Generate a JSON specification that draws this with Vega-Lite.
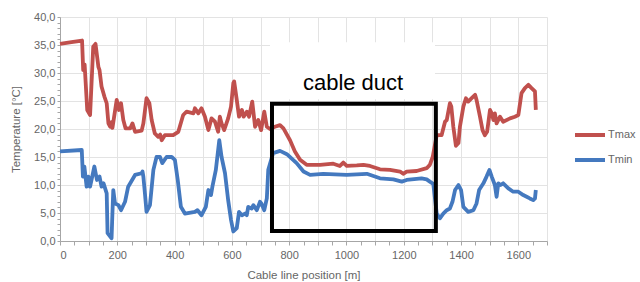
{
  "$schema": "https://vega.github.io/schema/vega-lite/v6.json",
  "autosize": "none",
  "width": 487,
  "height": 224,
  "padding": {"left": 60, "top": 17, "right": 93, "bottom": 41},
  "background": "white",
  "config": {
    "view": {"stroke": null},
    "font": "Liberation Sans",
    "axis": {"labelColor": "#666666", "titleColor": "#666666", "labelFont": "Liberation Sans", "titleFont": "Liberation Sans", "labelFontSize": 11, "titleFontSize": 11.5, "titleFontWeight": "normal", "gridColor": "#e3e3e3", "domainColor": "#a6a6a6", "tickColor": "#a6a6a6", "labelOverlap": false}
  },
  "resolve": {"axis": {"x": "independent", "y": "independent"}},
  "datasets": {
    "temps": [
      {"pos": 0, "temp": 35.2, "series": "Tmax"},
      {"pos": 40, "temp": 35.5, "series": "Tmax"},
      {"pos": 77, "temp": 35.8, "series": "Tmax"},
      {"pos": 81, "temp": 30.5, "series": "Tmax"},
      {"pos": 86, "temp": 31.5, "series": "Tmax"},
      {"pos": 95, "temp": 23.4, "series": "Tmax"},
      {"pos": 105, "temp": 22.5, "series": "Tmax"},
      {"pos": 116, "temp": 34.7, "series": "Tmax"},
      {"pos": 124, "temp": 35.2, "series": "Tmax"},
      {"pos": 134, "temp": 31.1, "series": "Tmax"},
      {"pos": 138, "temp": 30.5, "series": "Tmax"},
      {"pos": 145, "temp": 27.6, "series": "Tmax"},
      {"pos": 155, "temp": 25.8, "series": "Tmax"},
      {"pos": 163, "temp": 24.6, "series": "Tmax"},
      {"pos": 169, "temp": 21.0, "series": "Tmax"},
      {"pos": 175, "temp": 20.4, "series": "Tmax"},
      {"pos": 180, "temp": 21.2, "series": "Tmax"},
      {"pos": 183, "temp": 20.2, "series": "Tmax"},
      {"pos": 198, "temp": 25.2, "series": "Tmax"},
      {"pos": 206, "temp": 23.4, "series": "Tmax"},
      {"pos": 213, "temp": 24.6, "series": "Tmax"},
      {"pos": 221, "temp": 21.6, "series": "Tmax"},
      {"pos": 229, "temp": 20.1, "series": "Tmax"},
      {"pos": 245, "temp": 20.1, "series": "Tmax"},
      {"pos": 253, "temp": 21.0, "series": "Tmax"},
      {"pos": 262, "temp": 19.5, "series": "Tmax"},
      {"pos": 285, "temp": 19.7, "series": "Tmax"},
      {"pos": 291, "temp": 21.0, "series": "Tmax"},
      {"pos": 302, "temp": 25.5, "series": "Tmax"},
      {"pos": 312, "temp": 24.6, "series": "Tmax"},
      {"pos": 320, "temp": 21.6, "series": "Tmax"},
      {"pos": 331, "temp": 19.2, "series": "Tmax"},
      {"pos": 343, "temp": 18.6, "series": "Tmax"},
      {"pos": 350, "temp": 19.0, "series": "Tmax"},
      {"pos": 355, "temp": 18.0, "series": "Tmax"},
      {"pos": 366, "temp": 18.9, "series": "Tmax"},
      {"pos": 395, "temp": 18.9, "series": "Tmax"},
      {"pos": 413, "temp": 19.5, "series": "Tmax"},
      {"pos": 430, "temp": 22.5, "series": "Tmax"},
      {"pos": 442, "temp": 23.1, "series": "Tmax"},
      {"pos": 466, "temp": 22.8, "series": "Tmax"},
      {"pos": 471, "temp": 23.7, "series": "Tmax"},
      {"pos": 483, "temp": 22.8, "series": "Tmax"},
      {"pos": 494, "temp": 23.7, "series": "Tmax"},
      {"pos": 506, "temp": 22.2, "series": "Tmax"},
      {"pos": 518, "temp": 19.8, "series": "Tmax"},
      {"pos": 529, "temp": 21.9, "series": "Tmax"},
      {"pos": 541, "temp": 21.3, "series": "Tmax"},
      {"pos": 552, "temp": 19.5, "series": "Tmax"},
      {"pos": 558, "temp": 22.2, "series": "Tmax"},
      {"pos": 564, "temp": 21.0, "series": "Tmax"},
      {"pos": 573, "temp": 19.8, "series": "Tmax"},
      {"pos": 587, "temp": 21.9, "series": "Tmax"},
      {"pos": 597, "temp": 24.0, "series": "Tmax"},
      {"pos": 605, "temp": 28.2, "series": "Tmax"},
      {"pos": 608, "temp": 28.5, "series": "Tmax"},
      {"pos": 617, "temp": 25.2, "series": "Tmax"},
      {"pos": 625, "temp": 22.2, "series": "Tmax"},
      {"pos": 635, "temp": 23.4, "series": "Tmax"},
      {"pos": 641, "temp": 22.2, "series": "Tmax"},
      {"pos": 652, "temp": 23.1, "series": "Tmax"},
      {"pos": 660, "temp": 22.2, "series": "Tmax"},
      {"pos": 671, "temp": 24.9, "series": "Tmax"},
      {"pos": 681, "temp": 20.4, "series": "Tmax"},
      {"pos": 692, "temp": 21.6, "series": "Tmax"},
      {"pos": 702, "temp": 19.8, "series": "Tmax"},
      {"pos": 713, "temp": 23.1, "series": "Tmax"},
      {"pos": 722, "temp": 20.4, "series": "Tmax"},
      {"pos": 733, "temp": 20.0, "series": "Tmax"},
      {"pos": 750, "temp": 20.4, "series": "Tmax"},
      {"pos": 768, "temp": 20.7, "series": "Tmax"},
      {"pos": 780, "temp": 20.1, "series": "Tmax"},
      {"pos": 803, "temp": 18.0, "series": "Tmax"},
      {"pos": 820, "temp": 16.0, "series": "Tmax"},
      {"pos": 838, "temp": 14.5, "series": "Tmax"},
      {"pos": 861, "temp": 13.6, "series": "Tmax"},
      {"pos": 908, "temp": 13.6, "series": "Tmax"},
      {"pos": 954, "temp": 13.8, "series": "Tmax"},
      {"pos": 977, "temp": 13.4, "series": "Tmax"},
      {"pos": 989, "temp": 14.0, "series": "Tmax"},
      {"pos": 1001, "temp": 13.4, "series": "Tmax"},
      {"pos": 1036, "temp": 13.5, "series": "Tmax"},
      {"pos": 1059, "temp": 13.6, "series": "Tmax"},
      {"pos": 1082, "temp": 13.4, "series": "Tmax"},
      {"pos": 1117, "temp": 12.8, "series": "Tmax"},
      {"pos": 1152, "temp": 12.7, "series": "Tmax"},
      {"pos": 1187, "temp": 12.4, "series": "Tmax"},
      {"pos": 1198, "temp": 12.0, "series": "Tmax"},
      {"pos": 1210, "temp": 12.4, "series": "Tmax"},
      {"pos": 1245, "temp": 12.5, "series": "Tmax"},
      {"pos": 1280, "temp": 13.0, "series": "Tmax"},
      {"pos": 1291, "temp": 13.6, "series": "Tmax"},
      {"pos": 1301, "temp": 15.0, "series": "Tmax"},
      {"pos": 1315, "temp": 18.9, "series": "Tmax"},
      {"pos": 1332, "temp": 18.9, "series": "Tmax"},
      {"pos": 1344, "temp": 21.3, "series": "Tmax"},
      {"pos": 1350, "temp": 21.6, "series": "Tmax"},
      {"pos": 1361, "temp": 24.6, "series": "Tmax"},
      {"pos": 1366, "temp": 24.0, "series": "Tmax"},
      {"pos": 1373, "temp": 20.4, "series": "Tmax"},
      {"pos": 1382, "temp": 17.0, "series": "Tmax"},
      {"pos": 1391, "temp": 17.5, "series": "Tmax"},
      {"pos": 1396, "temp": 20.4, "series": "Tmax"},
      {"pos": 1408, "temp": 24.0, "series": "Tmax"},
      {"pos": 1417, "temp": 25.5, "series": "Tmax"},
      {"pos": 1425, "temp": 24.9, "series": "Tmax"},
      {"pos": 1437, "temp": 25.5, "series": "Tmax"},
      {"pos": 1449, "temp": 26.1, "series": "Tmax"},
      {"pos": 1454, "temp": 25.2, "series": "Tmax"},
      {"pos": 1466, "temp": 22.2, "series": "Tmax"},
      {"pos": 1475, "temp": 19.8, "series": "Tmax"},
      {"pos": 1483, "temp": 18.9, "series": "Tmax"},
      {"pos": 1491, "temp": 19.5, "series": "Tmax"},
      {"pos": 1501, "temp": 23.4, "series": "Tmax"},
      {"pos": 1507, "temp": 22.8, "series": "Tmax"},
      {"pos": 1513, "temp": 21.6, "series": "Tmax"},
      {"pos": 1518, "temp": 22.8, "series": "Tmax"},
      {"pos": 1524, "temp": 21.0, "series": "Tmax"},
      {"pos": 1536, "temp": 22.2, "series": "Tmax"},
      {"pos": 1547, "temp": 21.3, "series": "Tmax"},
      {"pos": 1571, "temp": 21.9, "series": "Tmax"},
      {"pos": 1588, "temp": 22.2, "series": "Tmax"},
      {"pos": 1600, "temp": 22.5, "series": "Tmax"},
      {"pos": 1611, "temp": 26.4, "series": "Tmax"},
      {"pos": 1623, "temp": 27.3, "series": "Tmax"},
      {"pos": 1635, "temp": 27.9, "series": "Tmax"},
      {"pos": 1646, "temp": 27.3, "series": "Tmax"},
      {"pos": 1658, "temp": 26.7, "series": "Tmax"},
      {"pos": 1661, "temp": 23.4, "series": "Tmax"},
      {"pos": 0, "temp": 16.0, "series": "Tmin"},
      {"pos": 76, "temp": 16.25, "series": "Tmin"},
      {"pos": 80, "temp": 11.5, "series": "Tmin"},
      {"pos": 85, "temp": 13.3, "series": "Tmin"},
      {"pos": 93, "temp": 9.7, "series": "Tmin"},
      {"pos": 99, "temp": 11.5, "series": "Tmin"},
      {"pos": 105, "temp": 9.7, "series": "Tmin"},
      {"pos": 120, "temp": 13.3, "series": "Tmin"},
      {"pos": 129, "temp": 10.9, "series": "Tmin"},
      {"pos": 138, "temp": 11.5, "series": "Tmin"},
      {"pos": 145, "temp": 9.7, "series": "Tmin"},
      {"pos": 152, "temp": 10.3, "series": "Tmin"},
      {"pos": 163, "temp": 8.5, "series": "Tmin"},
      {"pos": 166, "temp": 1.4, "series": "Tmin"},
      {"pos": 180, "temp": 0.5, "series": "Tmin"},
      {"pos": 182, "temp": 3.5, "series": "Tmin"},
      {"pos": 186, "temp": 9.1, "series": "Tmin"},
      {"pos": 192, "temp": 6.7, "series": "Tmin"},
      {"pos": 204, "temp": 6.4, "series": "Tmin"},
      {"pos": 213, "temp": 5.5, "series": "Tmin"},
      {"pos": 227, "temp": 7.0, "series": "Tmin"},
      {"pos": 238, "temp": 9.7, "series": "Tmin"},
      {"pos": 262, "temp": 11.8, "series": "Tmin"},
      {"pos": 285, "temp": 12.1, "series": "Tmin"},
      {"pos": 288, "temp": 12.4, "series": "Tmin"},
      {"pos": 291, "temp": 11.5, "series": "Tmin"},
      {"pos": 297, "temp": 8.2, "series": "Tmin"},
      {"pos": 302, "temp": 5.2, "series": "Tmin"},
      {"pos": 314, "temp": 6.4, "series": "Tmin"},
      {"pos": 326, "temp": 12.7, "series": "Tmin"},
      {"pos": 337, "temp": 15.0, "series": "Tmin"},
      {"pos": 349, "temp": 15.0, "series": "Tmin"},
      {"pos": 357, "temp": 13.9, "series": "Tmin"},
      {"pos": 372, "temp": 15.0, "series": "Tmin"},
      {"pos": 390, "temp": 15.0, "series": "Tmin"},
      {"pos": 401, "temp": 14.5, "series": "Tmin"},
      {"pos": 411, "temp": 10.9, "series": "Tmin"},
      {"pos": 422, "temp": 6.1, "series": "Tmin"},
      {"pos": 436, "temp": 4.9, "series": "Tmin"},
      {"pos": 471, "temp": 5.2, "series": "Tmin"},
      {"pos": 480, "temp": 5.5, "series": "Tmin"},
      {"pos": 494, "temp": 4.6, "series": "Tmin"},
      {"pos": 509, "temp": 6.1, "series": "Tmin"},
      {"pos": 518, "temp": 9.1, "series": "Tmin"},
      {"pos": 527, "temp": 8.2, "series": "Tmin"},
      {"pos": 532, "temp": 9.7, "series": "Tmin"},
      {"pos": 544, "temp": 12.7, "series": "Tmin"},
      {"pos": 556, "temp": 18.0, "series": "Tmin"},
      {"pos": 564, "temp": 15.0, "series": "Tmin"},
      {"pos": 576, "temp": 12.1, "series": "Tmin"},
      {"pos": 587, "temp": 7.3, "series": "Tmin"},
      {"pos": 597, "temp": 3.75, "series": "Tmin"},
      {"pos": 605, "temp": 1.7, "series": "Tmin"},
      {"pos": 617, "temp": 2.3, "series": "Tmin"},
      {"pos": 625, "temp": 5.2, "series": "Tmin"},
      {"pos": 635, "temp": 4.6, "series": "Tmin"},
      {"pos": 646, "temp": 4.9, "series": "Tmin"},
      {"pos": 652, "temp": 4.6, "series": "Tmin"},
      {"pos": 657, "temp": 6.1, "series": "Tmin"},
      {"pos": 669, "temp": 5.8, "series": "Tmin"},
      {"pos": 675, "temp": 6.4, "series": "Tmin"},
      {"pos": 687, "temp": 5.5, "series": "Tmin"},
      {"pos": 698, "temp": 7.0, "series": "Tmin"},
      {"pos": 703, "temp": 6.7, "series": "Tmin"},
      {"pos": 713, "temp": 5.5, "series": "Tmin"},
      {"pos": 722, "temp": 7.6, "series": "Tmin"},
      {"pos": 727, "temp": 12.7, "series": "Tmin"},
      {"pos": 744, "temp": 15.7, "series": "Tmin"},
      {"pos": 768, "temp": 16.1, "series": "Tmin"},
      {"pos": 792, "temp": 15.5, "series": "Tmin"},
      {"pos": 826, "temp": 13.9, "series": "Tmin"},
      {"pos": 850, "temp": 12.4, "series": "Tmin"},
      {"pos": 873, "temp": 11.8, "series": "Tmin"},
      {"pos": 919, "temp": 12.0, "series": "Tmin"},
      {"pos": 1001, "temp": 11.8, "series": "Tmin"},
      {"pos": 1071, "temp": 12.0, "series": "Tmin"},
      {"pos": 1117, "temp": 11.2, "series": "Tmin"},
      {"pos": 1164, "temp": 11.0, "series": "Tmin"},
      {"pos": 1193, "temp": 10.6, "series": "Tmin"},
      {"pos": 1210, "temp": 10.9, "series": "Tmin"},
      {"pos": 1262, "temp": 11.2, "series": "Tmin"},
      {"pos": 1280, "temp": 11.0, "series": "Tmin"},
      {"pos": 1291, "temp": 10.6, "series": "Tmin"},
      {"pos": 1303, "temp": 10.2, "series": "Tmin"},
      {"pos": 1315, "temp": 4.9, "series": "Tmin"},
      {"pos": 1326, "temp": 4.05, "series": "Tmin"},
      {"pos": 1338, "temp": 4.9, "series": "Tmin"},
      {"pos": 1350, "temp": 5.5, "series": "Tmin"},
      {"pos": 1361, "temp": 5.8, "series": "Tmin"},
      {"pos": 1370, "temp": 7.0, "series": "Tmin"},
      {"pos": 1379, "temp": 9.1, "series": "Tmin"},
      {"pos": 1391, "temp": 10.0, "series": "Tmin"},
      {"pos": 1400, "temp": 9.1, "series": "Tmin"},
      {"pos": 1408, "temp": 6.1, "series": "Tmin"},
      {"pos": 1425, "temp": 5.2, "series": "Tmin"},
      {"pos": 1443, "temp": 5.5, "series": "Tmin"},
      {"pos": 1454, "temp": 6.7, "series": "Tmin"},
      {"pos": 1463, "temp": 9.1, "series": "Tmin"},
      {"pos": 1478, "temp": 10.3, "series": "Tmin"},
      {"pos": 1489, "temp": 11.5, "series": "Tmin"},
      {"pos": 1499, "temp": 12.7, "series": "Tmin"},
      {"pos": 1507, "temp": 11.5, "series": "Tmin"},
      {"pos": 1518, "temp": 10.0, "series": "Tmin"},
      {"pos": 1524, "temp": 7.9, "series": "Tmin"},
      {"pos": 1530, "temp": 10.3, "series": "Tmin"},
      {"pos": 1538, "temp": 10.0, "series": "Tmin"},
      {"pos": 1547, "temp": 10.3, "series": "Tmin"},
      {"pos": 1565, "temp": 9.4, "series": "Tmin"},
      {"pos": 1582, "temp": 8.8, "series": "Tmin"},
      {"pos": 1600, "temp": 8.8, "series": "Tmin"},
      {"pos": 1617, "temp": 8.2, "series": "Tmin"},
      {"pos": 1629, "temp": 7.9, "series": "Tmin"},
      {"pos": 1640, "temp": 7.6, "series": "Tmin"},
      {"pos": 1652, "temp": 7.3, "series": "Tmin"},
      {"pos": 1658, "temp": 7.6, "series": "Tmin"},
      {"pos": 1661, "temp": 9.1, "series": "Tmin"}
    ],
    "labelbox": [{"x1": 733, "x2": 1309, "y1": 25.3, "y2": 35.5}],
    "duct": [{"x1": 740, "x2": 1312, "y1": 1.8, "y2": 24.5, "label": "cable duct", "lx": 1023, "ly": 28.3}]
  },
  "layer": [
    {
      "data": {"name": "labelbox"},
      "mark": {"type": "rect", "fill": "white"},
      "encoding": {
        "x": {"field": "x1", "type": "quantitative", "scale": {"domain": [0, 1700], "nice": false}, "axis": {"orient": "bottom", "title": null, "values": [0,100,200,300,400,500,600,700,800,900,1000,1100,1200,1300,1400,1500,1600,1700], "labels": false, "ticks": false, "domain": false, "grid": true}},
        "x2": {"field": "x2"},
        "y": {"field": "y1", "type": "quantitative", "scale": {"domain": [0, 40], "nice": false}, "axis": {"orient": "left", "title": null, "values": [0,5,10,15,20,25,30,35,40], "labels": false, "ticks": false, "domain": false, "grid": true}},
        "y2": {"field": "y2"}
      }
    },
    {
      "data": {"name": "temps"},
      "mark": {"type": "line", "strokeWidth": 3.8, "strokeJoin": "round", "interpolate": "linear"},
      "encoding": {
        "x": {"field": "pos", "type": "quantitative", "axis": {"orient": "bottom", "title": "Cable line position [m]", "grid": false, "values": [0,50,100,150,200,250,300,350,400,450,500,550,600,650,700,750,800,850,900,950,1000,1050,1100,1150,1200,1250,1300,1350,1400,1450,1500,1550,1600,1650,1700], "labelExpr": "datum.value % 200 == 0 && datum.value < 1700 ? datum.label : ''", "format": "d", "tickSize": 4, "labelPadding": 4, "titlePadding": 9}},
        "y": {"field": "temp", "type": "quantitative", "axis": {"orient": "left", "title": "Temperature [°C]", "grid": false, "values": [0,1,2,3,4,5,6,7,8,9,10,11,12,13,14,15,16,17,18,19,20,21,22,23,24,25,26,27,28,29,30,31,32,33,34,35,36,37,38,39,40], "labelExpr": "datum.value % 5 == 0 ? replace(format(datum.value, '.1f'), '.', ',') : ''", "tickSize": 3, "titlePadding": 12}},
        "color": {"field": "series", "type": "nominal", "scale": {"domain": ["Tmax", "Tmin"], "range": ["#c0504d", "#4479bf"]}, "legend": {"title": null, "orient": "none", "legendX": 513, "legendY": 101, "symbolType": "stroke", "symbolSize": 900, "symbolStrokeWidth": 4, "labelFontSize": 11, "labelColor": "#666666", "labelFont": "Liberation Sans", "rowPadding": -10, "labelOffset": 1}}
      }
    },
    {
      "data": {"name": "duct"},
      "mark": {"type": "rect", "fill": null, "fillOpacity": 0, "stroke": "black", "strokeWidth": 4},
      "encoding": {
        "x": {"field": "x1", "type": "quantitative", "axis": null},
        "x2": {"field": "x2"},
        "y": {"field": "y1", "type": "quantitative", "axis": null},
        "y2": {"field": "y2"}
      }
    },
    {
      "data": {"name": "duct"},
      "mark": {"type": "text", "fontSize": 22, "font": "Liberation Sans", "color": "black", "align": "center", "baseline": "middle"},
      "encoding": {
        "x": {"field": "lx", "type": "quantitative", "axis": null},
        "y": {"field": "ly", "type": "quantitative", "axis": null},
        "text": {"field": "label"}
      }
    }
  ]
}
